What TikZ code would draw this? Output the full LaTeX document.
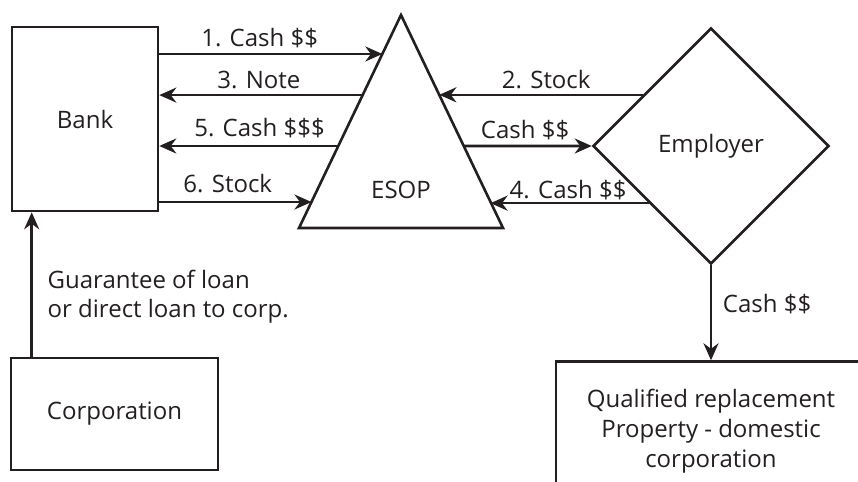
\documentclass[tikz,border=0pt]{standalone}
\usepackage{fontspec}
\setmainfont{Open Sans}
\usetikzlibrary{arrows.meta,calc,positioning,shapes.geometric}
\definecolor{ink}{HTML}{231F20}

\begin{document}
\begin{tikzpicture}[x=0.5pt, y=-0.5pt, line width=1.3pt, color=ink,
    every node/.style={font=\fontsize{12}{14.8}\selectfont},
    box/.style={draw, rectangle, inner sep=0pt},
    flow/.style={-{Stealth[length=8.5pt, width=7.5pt]}},
    lbl/.style={above, inner sep=2.5pt}]
  \useasboundingbox (0,0) rectangle (858,482);
  \clip (0,0) rectangle (858,482);
  \node[box, minimum width=73pt, minimum height=92pt] (bank) at (85,119) {Bank};
  \node[box, minimum width=103.5pt, minimum height=56pt] (corp) at (114.5,414) {Corporation};
  \node[diamond, draw, aspect=1, inner sep=0pt, minimum width=118pt, minimum height=118pt] (emp) at (711,146) {Employer};
  \node[box, align=center, minimum width=155pt, minimum height=69.5pt, below=47.5pt of emp] (qual) {Qualified replacement\\Property - domestic\\corporation};
  \coordinate (apex) at (401,15);
  \coordinate (bl) at (299,228);
  \coordinate (br) at (503,228);
  \draw (apex) -- (bl) -- (br) -- cycle;
  \node (esop) at (401,190) {ESOP};
  \foreach \t [count=\i] in {0.183,0.376,0.615,0.878}{
    \coordinate (l\i) at ($(apex)!\t!(bl)$);
    \coordinate (r\i) at ($(apex)!\t!(br)$);
  }
  \coordinate (e2) at ($(emp.north)!0.571!(emp.west)$);
  \coordinate (e4) at ($(emp.west)!0.479!(emp.south)$);
  \coordinate (g) at ([xshift=11pt]corp.north west);
  \draw[flow] (bank.east |- l1) -- node[lbl, pos=0.45] {1. Cash \$\$} (l1);
  \draw[flow] (l2) -- node[lbl, pos=0.51] {3. Note} (bank.east |- l2);
  \draw[flow] (l3) -- node[lbl, pos=0.44, yshift=1pt] {5. Cash \$\$\$} (bank.east |- l3);
  \draw[flow] (bank.east |- l4) -- node[lbl, pos=0.45, yshift=1.5pt] {6. Stock} (l4);
  \draw[flow] (e2) -- node[lbl, pos=0.475] {2. Stock} (e2 -| r2);
  \draw[flow] (r3) -- node[lbl, pos=0.48] {Cash \$\$} (emp.west);
  \draw[flow] (e4) -- node[lbl, pos=0.51, yshift=-1.5pt] {4. Cash \$\$} (e4 -| r4);
  \draw[flow] (emp.south) -- node[right, pos=0.41, xshift=2pt] {Cash \$\$} (qual);
  \draw[flow] (g) -- node[right, pos=0.415, align=left, xshift=4pt] {Guarantee of loan\\or direct loan to corp.} (g |- bank.south);
\end{tikzpicture}
\end{document}
